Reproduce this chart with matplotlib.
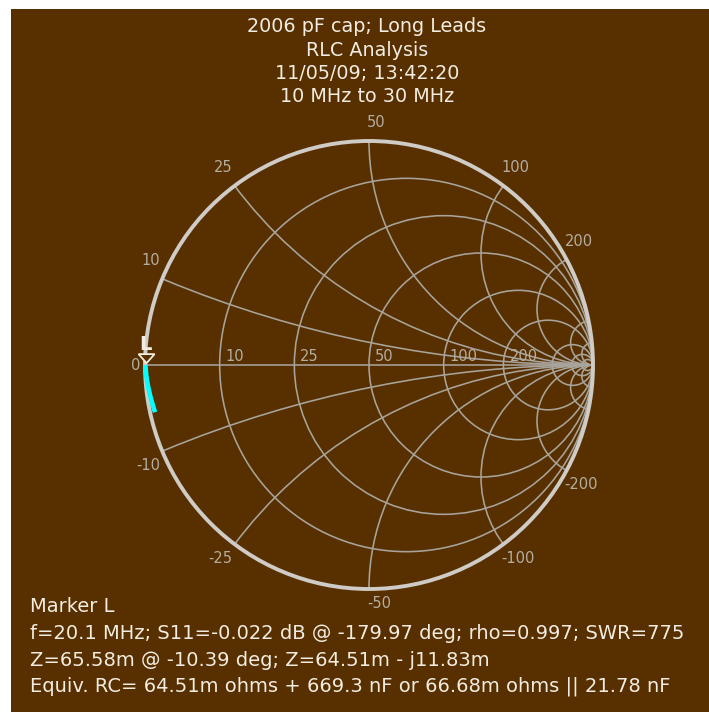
import numpy as np
import matplotlib
matplotlib.use("Agg")
import matplotlib.pyplot as plt
from matplotlib.patches import Circle, Rectangle, Polygon

# ---------------- data ----------------
title_lines = ["2006 pF cap; Long Leads", "RLC Analysis", "11/05/09; 13:42:20", "10 MHz to 30 MHz"]
z0 = 50.0
resistance_circles = [10, 25, 50, 100, 200, 500, 1000, 2000]      # ohms
resistance_labels = [10, 25, 50, 100, 200]
reactance_arcs = [10, 25, 50, 100, 200, 500, 1000]                 # ohms (+/-)
reactance_labels = [10, 25, 50, 100, 200]

trace_freq_mhz = [10, 11, 12, 13, 14, 15, 16, 17, 18, 19, 20.1]
trace_r_ohm = [0.55, 0.48, 0.40, 0.33, 0.27, 0.21, 0.16, 0.12, 0.09, 0.07, 0.0645]
trace_x_ohm = [-5.45, -4.7, -4.0, -3.35, -2.75, -2.2, -1.7, -1.2, -0.75, -0.35, -0.0118]

marker_name = "L"
marker_r_ohm = 0.06451
marker_x_ohm = -0.01183
info_lines = [
    "Marker L",
    "f=20.1 MHz; S11=-0.022 dB @ -179.97 deg; rho=0.997; SWR=775",
    "Z=65.58m @ -10.39 deg; Z=64.51m - j11.83m",
    "Equiv. RC= 64.51m ohms + 669.3 nF or 66.68m ohms || 21.78 nF",
]

# ---------------- style ----------------
BG = "#583000"
GRID = "#a8a49c"
RIM = "#cfcbc6"
TXT = "#f2ece2"
LBL = "#b4ada2"
CYAN = "#00ffff"

W, H = 709, 712
CX, CY, RAD = 369.0, 365.0, 224.0

fig = plt.figure(figsize=(W / 100, H / 100), dpi=100)
fig.patch.set_facecolor("white")

ax = fig.add_axes([0, 0, 1, 1])
ax.set_xlim(-CX / RAD, (W - CX) / RAD)
ax.set_ylim((CY - H) / RAD, CY / RAD)
ax.set_aspect("auto")
ax.axis("off")
ax.add_patch(Rectangle((11 / W, 0), (W - 11) / W, (H - 9) / H,
                       transform=fig.transFigure, facecolor=BG,
                       edgecolor="none", zorder=0, clip_on=False))


def px(x, y):
    return (x - CX) / RAD, (CY - y) / RAD


def gamma(r_ohm, x_ohm):
    z = (np.asarray(r_ohm) + 1j * np.asarray(x_ohm)) / z0
    return (z - 1) / (z + 1)


clip = Circle((0, 0), 1.0, transform=ax.transData, facecolor="none", edgecolor="none")
ax.add_patch(clip)

glw = 1.15
# resistance circles
for r in resistance_circles:
    rn = r / z0
    c = Circle((rn / (1 + rn), 0), 1 / (1 + rn), fill=False, edgecolor=GRID, lw=glw, zorder=2)
    ax.add_patch(c)
# reactance arcs
for x in reactance_arcs:
    xn = x / z0
    for s in (1, -1):
        c = Circle((1, s / xn), 1 / xn, fill=False, edgecolor=GRID, lw=glw, zorder=2)
        ax.add_patch(c)
        c.set_clip_path(clip)
# real axis
ax.plot([-1, 1], [0, 0], color=GRID, lw=glw, zorder=2)
# outer rim
ax.add_patch(Circle((0, 0), 1.0, fill=False, edgecolor=RIM, lw=2.8, zorder=3))

# resistance labels
for r in resistance_labels:
    rn = r / z0
    g = (rn - 1) / (rn + 1)
    ax.text(g + 6 / RAD, 1.5 / RAD, str(r), color=LBL, fontsize=10.5,
            ha="left", va="bottom", zorder=4)

# reactance labels
for x in reactance_labels:
    for s in (1, -1):
        g = gamma(0, s * x)
        gx, gy = np.real(g), np.imag(g)
        ha = "left" if gx > -0.05 else "right"
        if s > 0:
            ax.text(gx - 2 / RAD, gy + 11 / RAD, str(x), color=LBL, fontsize=10.5,
                    ha=ha, va="bottom", zorder=4)
        else:
            ax.text(gx - 2 / RAD, gy - 7 / RAD, "-" + str(x), color=LBL, fontsize=10.5,
                    ha=ha, va="top", zorder=4)
g0 = gamma(0, 0)
ax.text(1.04 * np.real(g0), 0, "0", color=LBL, fontsize=10.5, ha="center", va="center", zorder=4)

# trace
gt = gamma(trace_r_ohm, trace_x_ohm)
ax.plot(np.real(gt), np.imag(gt), color=CYAN, lw=3.3, solid_capstyle="butt", zorder=5)

# marker
gm = gamma(marker_r_ohm, marker_x_ohm)
mx, my = np.real(gm), np.imag(gm)
tri = Polygon([(mx - 7 / RAD, my + 11 / RAD), (mx + 9 / RAD, my + 11 / RAD), (mx + 1 / RAD, my + 2 / RAD)],
              closed=True, facecolor=BG, edgecolor=TXT, lw=1.3, zorder=6)
ax.add_patch(tri)
ax.text(mx, my + 21 / RAD, marker_name, color=TXT, fontsize=14, fontweight="bold",
        ha="center", va="center", zorder=6)

# titles
for i, t in enumerate(title_lines):
    ax.text(*px(367, 27 + 23.3 * i), t, color=TXT, fontsize=13.8, ha="center", va="center")

# info
for i, t in enumerate(info_lines):
    ax.text(*px(30, 607 + 26.5 * i), t, color=TXT, fontsize=14, ha="left", va="center")

fig.savefig("out.png", dpi=100, facecolor="white")
